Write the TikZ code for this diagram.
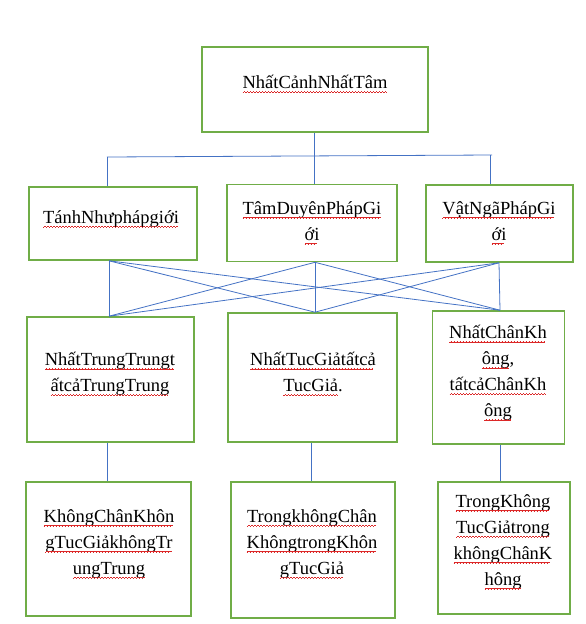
\documentclass[tikz,border=0pt]{standalone}
\usepackage{fontspec}
\setmainfont{Liberation Serif}
\usepackage{xcolor}
\definecolor{boxgreen}{RGB}{112,173,71}
\definecolor{linkblue}{RGB}{68,114,196}
\definecolor{squig}{RGB}{220,40,40}
\newcommand\waveunit{\hbox{\rule[0pt]{0.75pt}{0.6pt}\rule[0.6pt]{0.75pt}{0.6pt}\rule[1.2pt]{0.75pt}{0.6pt}\rule[0.6pt]{0.75pt}{0.6pt}}}
\newcommand\sq[1]{\setbox0\hbox{#1}\leavevmode\rlap{\copy0}\lower4.5pt\hbox to \wd0{\color{squig}\leaders\waveunit\hfill}}
\tikzset{
  box/.style={draw=boxgreen, line width=1.6pt, fill=white, inner sep=0pt},
  txt/.style={align=center, inner sep=0pt, font=\fontsize{18.5}{26}\selectfont},
  link/.style={draw=linkblue, line width=0.8pt}
}
\begin{document}
\begin{tikzpicture}[x=1pt,y=-1pt]
\useasboundingbox (0,0) rectangle (586,624);
% boxes
\node[box, minimum width=226pt, minimum height=85pt] (top) at (315,89.5) {};
\node[box, minimum width=168pt, minimum height=73pt] (b1) at (113,223.5) {};
\node[box, minimum width=170pt, minimum height=77pt] (b2) at (312,223) {};
\node[box, minimum width=147pt, minimum height=77pt] (b3) at (499.5,223.5) {};
\node[box, minimum width=167pt, minimum height=125pt] (c1) at (110.5,379.5) {};
\node[box, minimum width=169pt, minimum height=129pt] (c2) at (312.5,377.5) {};
\node[box, minimum width=132pt, minimum height=133pt] (c3) at (498.5,377.5) {};
\node[box, minimum width=165pt, minimum height=134pt] (d1) at (108.5,549) {};
\node[box, minimum width=164pt, minimum height=136pt] (d2) at (313,550) {};
\node[box, minimum width=132pt, minimum height=132pt] (d3) at (504,548) {};
% texts
\node[txt] (ttop) at (315,84) {\sq{NhấtCảnhNhấtTâm}};
\node[txt] (tb1) at (111,219) {\sq{TánhNhưphápgiới}};
\node[txt] (tb2) at (312,223) {\sq{TâmDuyênPhápGi}\\\sq{ới}};
\node[txt] (tb3) at (499,223) {\sq{VậtNgãPhápGi}\\\sq{ới}};
\node[txt] (tc1) at (110,374) {\sq{NhấtTrungTrungt}\\\sq{ấtcảTrungTrung}};
\node[txt] (tc2) at (313,374) {\sq{NhấtTucGiảtấtcả}\\\sq{TucGiả}.};
\node[txt] (tc3) at (498,373) {\sq{NhấtChânKh}\\\sq{ông},\\\sq{tấtcảChânKh}\\\sq{ông}};
\node[txt] (td1) at (109,544) {\sq{KhôngChânKhôn}\\\sq{gTucGiảkhôngTr}\\\sq{ungTrung}};
\node[txt] (td2) at (312,544) {\sq{TrongkhôngChân}\\\sq{KhôngtrongKhôn}\\\sq{gTucGiả}};
\node[txt] (td3) at (503,542) {\sq{TrongKhông}\\\sq{TucGiảtrong}\\\sq{khôngChânK}\\\sq{hông}};
% bus
\coordinate (busL) at (107,157);
\coordinate (busR) at (492,155);
\draw[link] (top.south -| 314,0) -- (b2.north -| 314,0);
\draw[link] (busL) -- (busR);
\draw[link] (busL) -- (b1.north -| busL);
\draw[link] (490,155) -- (b3.north -| 490,0);
% crossing links
\foreach \s/\sx in {b1/109,b2/315,b3/499}{
  \foreach \t/\tx in {c1/109,c2/315,c3/500}{
    \draw[link] (\s.south -| \sx,0) -- (\t.north -| \tx,0);
  }
}
% lower links
\draw[link] (c1.south -| 107,0) -- (d1.north -| 107,0);
\draw[link] (c2.south -| 311,0) -- (d2.north -| 311,0);
\draw[link] (c3.south -| 500,0) -- (d3.north -| 500,0);
\end{tikzpicture}
\end{document}
